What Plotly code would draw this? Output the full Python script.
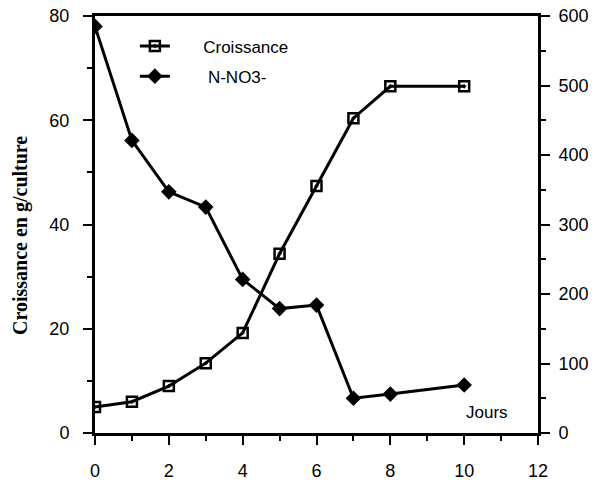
import plotly.graph_objects as go

# Days of culture
jours = [0, 1, 2, 3, 4, 5, 6, 7, 8, 10]
# Growth (g/culture), left axis
croissance = [5.0, 6.0, 9.0, 13.4, 19.2, 34.4, 47.4, 60.4, 66.5, 66.5]
# Nitrate N-NO3- remaining, right axis
n_no3 = [585, 421, 347, 325, 221, 179, 184, 50, 56, 69]

x_ticks = [0, 2, 4, 6, 8, 10, 12]
x_minor = [1, 3, 5, 7, 9, 11]
left_ticks = [0, 20, 40, 60, 80]
left_minor = [10, 30, 50, 70]
right_ticks = [0, 100, 200, 300, 400, 500, 600]
right_minor = [50, 150, 250, 350, 450, 550]

sans = "Liberation Sans, Arial"
tick_font = dict(family=sans, size=18, color="black")
NB = "\u00a0"

fig = go.Figure()
fig.add_trace(go.Scatter(
    x=jours, y=croissance, name=NB * 6 + "Croissance", mode="lines+markers",
    line=dict(color="black", width=3),
    marker=dict(symbol="square-open-dot", size=10, color="black",
                line=dict(color="black", width=2.5)),
    legendgroup="a", yaxis="y",
))
fig.add_trace(go.Scatter(
    x=jours, y=n_no3, name=NB * 7 + "N-NO3-", mode="lines+markers",
    line=dict(color="black", width=3),
    marker=dict(symbol="diamond", size=12, color="black"),
    legendgroup="b", yaxis="y2",
))


def axis_style(major, minor, standoff):
    return dict(
        tickmode="array", tickvals=major, ticks="outside", ticklen=9,
        tickwidth=2, tickcolor="black", showline=True, linewidth=3,
        linecolor="black", showgrid=False, zeroline=False, automargin=False,
        tickfont=tick_font, ticklabelstandoff=standoff,
        minor=dict(tickmode="array", tickvals=minor, ticks="outside",
                   ticklen=5, tickwidth=2, tickcolor="black", showgrid=False),
    )


fig.update_layout(
    width=602, height=482,
    margin=dict(l=95, r=64, t=16, b=49),
    paper_bgcolor="white", plot_bgcolor="white",
    showlegend=True,
    legend=dict(x=0.09, y=0.97, xanchor="left", yanchor="top",
                bgcolor="rgba(0,0,0,0)", tracegroupgap=5,
                font=dict(family=sans, size=17, color="black"),
                itemwidth=30),
    xaxis=dict(range=[0, 12], mirror=True, **axis_style(x_ticks, x_minor, 10)),
    yaxis=dict(range=[0, 80], **axis_style(left_ticks, left_minor, 10)),
    yaxis2=dict(range=[0, 600], overlaying="y", side="right",
                **axis_style(right_ticks, right_minor, 5)),
    # extra left-side overlay carrying the long ticks of the growth scale
    yaxis3=dict(range=[0, 80], overlaying="y", side="left", anchor="x",
                tickmode="array", tickvals=left_ticks, ticks="outside",
                ticklen=9, tickwidth=2, tickcolor="black",
                showticklabels=False, showline=False, showgrid=False,
                zeroline=False, automargin=False),
    annotations=[
        dict(text="Jours", x=10.62, y=0.05, xref="x", yref="paper",
             xanchor="center", yanchor="middle", showarrow=False,
             font=dict(family=sans, size=17, color="black")),
        dict(text="<b>Croissance en g/culture</b>", textangle=-90,
             x=0, y=0, xref="paper", yref="paper",
             showarrow=False, xanchor="center", yanchor="middle",
             font=dict(family="Liberation Serif, Times New Roman", size=20,
                       color="black")),
    ],
)

# place the rotated axis title in pixel terms relative to the plot area
plot_w = 602 - 95 - 64
plot_h = 482 - 16 - 49
title = fig.layout.annotations[1]
title.x = (20 - 95) / plot_w
title.y = (482 - 49 - 236) / plot_h

fig.write_html("out.html")
